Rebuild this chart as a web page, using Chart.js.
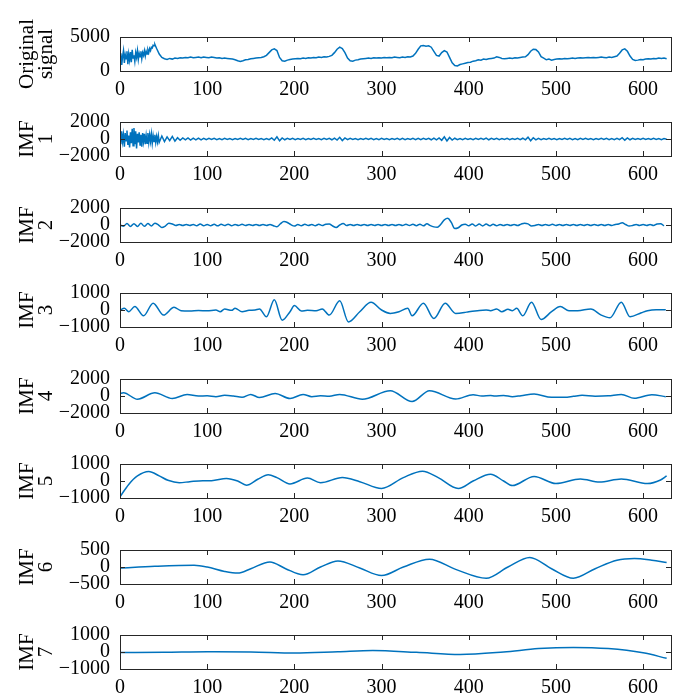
<!DOCTYPE html>
<html>
<head>
<meta charset="utf-8">
<script src="https://cdn.jsdelivr.net/npm/chart.js@4.4.1/dist/chart.umd.min.js"></script>
<style>
  html, body { margin: 0; padding: 0; background: #fff; }
  #wrap { position: relative; width: 686px; height: 695px; overflow: hidden; }
  #wrap canvas { position: absolute; left: 0; }
</style>
</head>
<body>
<div id="wrap"></div>
<script>
// x axis ticks shared by every panel
var xTicks = [0, 100, 200, 300, 400, 500, 600];
var xMax = 632;

// Original signal: every sample up to 41, then one reading every 3 samples from 42
var origHead = [
  1500, 2600, 900, 2200, 3000, 1200, 2400, 1800, 2900, 1000,
  2500, 1600, 2800, 1300, 3100, 1900, 2300, 1400, 2700, 2000,
  3000, 1700, 2600, 2100, 2900, 1800, 2700, 2300, 3000, 2200,
  2900, 2500, 3100, 2700, 3300, 3000, 3500, 3400, 3800, 3700,
  3900, 3600
];
var origTailStart = 42, origTailStep = 3;
var origTail = [
  3300, 2500, 2000, 1800, 1700, 1850,
  1750, 1900, 1850, 1950, 1900, 2000, 1950, 2050, 1950, 2000,
  2050, 1950, 2050, 2000, 1950, 2050, 2000, 1900, 1950, 1850,
  1900, 1850, 1800, 1750, 1650, 1500, 1400, 1500, 1650, 1700,
  1800, 1850, 1900, 1950, 2000, 2100, 2300, 2700, 3100, 3250,
  3000, 2000, 1500, 1450, 1600, 1700, 1750, 1800, 1850, 1800,
  1900, 1850, 1950, 1900, 2000, 1950, 2050, 2000, 2100, 2050,
  2150, 2300, 2700, 3200, 3500, 3300, 2700, 1900, 1500, 1450,
  1600, 1650, 1750, 1800, 1850, 1900, 1850, 1950, 1900, 1950,
  1900, 2000, 1950, 2000, 1950, 2050, 2000, 1950, 2050, 2000,
  2100, 2050, 2200, 2600, 3200, 3700, 3750, 3650, 3700, 3500,
  2900, 2300, 2200, 2700, 3000, 2800, 2000, 1200, 800, 750,
  950, 1050, 1150, 1250, 1300, 1450, 1500, 1650, 1600, 1750,
  1700, 1800, 1850, 1900, 2100, 2000, 1850, 1800, 1850, 1900,
  1850, 1950, 1900, 2000, 2050, 2100, 2400, 2900, 3200, 3150,
  2800, 2100, 1900, 1650, 1750, 1600, 1700, 1750, 1800, 1750,
  1850, 1800, 1850, 1900, 1850, 1900, 1950, 1900, 1950, 2000,
  1950, 2000, 1950, 2000, 2050, 2000, 1950, 2050, 2000, 2100,
  2200, 2600, 3100, 3250, 2900, 2200, 1700, 1550, 1600, 1700,
  1650, 1750, 1800, 1750, 1850, 1800, 1900, 1850, 1900, 1800
];

// IMF 1: every sample up to 44, then one reading every 3 samples from 45
var imf1Head = [
  200, -600, 900, -300, 500, -900, 700, -200, 1000, -700,
  400, -1000, 800, -500, 1200, -800, 1300, -600, 900, -1100,
  600, -400, 800, -700, 500, -900, 700, -300, 600, -600,
  400, -500, 700, -400, 500, -300, 600, -500, 400, -300,
  500, -400, 300, -350, 400
];
var imf1TailStart = 45, imf1TailStep = 3;
var imf1Tail = [
  -400, 350, -300, 250, -200, 300, -250,
  150, -150, 120, -100, 130, -120, 100, -90, 110, -100, 80, -90,
  70, -60, 80, -70, 60, -80, 70, -60, 50, -70,
  60, -50, 70, -60, 80, -70, 60, -50, 70, -60,
  50, -70, 60, -80, 120, -150, 250, -220, 130, -90,
  70, -60, 80, -70, 60, -50, 70, -80, 60, -60,
  70, -50, 60, -70, 80, -60, 70, -90, 110, -120,
  200, -180, 120, -80, 70, -60, 50, -70, 60, -60,
  70, -60, 80, -70, 60, -70, 80, -60, 50, -70,
  60, -50, 70, -80, 90, -70, 60, -60, 80, -70,
  90, -80, 70, -60, 80, -90, 100, -110, 130, -150,
  250, -230, 180, -120, 90, -70, 60, -80, 70, -60,
  60, -70, 80, -60, 70, -60, 100, -90, 70, -60,
  80, -70, 60, -50, 70, -80, 60, -60, 70, -70,
  90, -100, 220, -200, 150, -110, 80, -70, 60, -60,
  70, -60, 50, -70, 60, -50, 70, -60, 80, -70,
  60, -70, 80, -60, 70, -60, 50, -70, 60, -60,
  70, -60, 80, -70, 60, -70, 90, -80, 150, -140,
  120, -90, 70, -60, 50, -60, 70, -60, 60, -50,
  70, -60, 60, -70, 50, -40
];

// IMF 2, one reading every 4 samples
var imf2Step = 4;
var imf2Values = [
  0, -150, 180, -170, 160, -180, 200, -160, 170, -120,
  220, 20, -300, -120, 200, 120, -60, 60, -60, 50,
  -50, 60, -80, 120, -80, 70, -80, 80, -100, 80,
  -70, 100, -80, 60, -70, 80, -60, 50, -50, 60,
  -60, 50, -50, 60, -80, -220, 150, 400, 300, 40,
  -130, 60, -80, 80, -70, 60, -80, 80, -70, 100,
  120, -120, -290, 0, 190, -60, 60, -60, 50, -50,
  60, -60, 50, -50, 60, -60, 70, -60, 60, -70,
  60, -60, 80, -70, 80, -80, 100, -100, 140, -80,
  -220, -260, 100, 600, 780, 300, -420, -320, 0, 100,
  -100, 120, -120, 110, -110, 120, -100, 80, -80, 70,
  -70, 60, -60, 70, -60, 100, 220, 130, -110, -60,
  60, -60, 50, -50, 80, -70, 60, -60, 50, -50,
  60, -60, 50, -50, 60, -60, 50, -50, 60, -60,
  50, -60, 70, 120, 260, 60, -130, -60, 60, -50,
  50, -50, 60, -60, 130, 160, -100
];

// IMF 3..7, read at the turning points of each curve
var imf3X = [0, 5, 10, 17, 27, 38, 50, 62, 70, 80, 90, 100, 110, 115, 120, 128, 132, 140, 148, 155,
  160, 168, 177, 186, 195, 200, 208, 215, 225, 232, 240, 252, 262, 275, 288, 300, 310, 320, 330, 335,
  348, 360, 373, 385, 395, 400, 410, 420, 425, 432, 438, 445, 450, 455, 462, 472, 483, 495, 505, 515,
  525, 540, 552, 562, 575, 585, 598, 605, 615, 626];
var imf3Y = [0, 100, -100, 200, -340, 400, -300, 160, -40, -60, -30, -50, 0, -100, 60, -20, 100, -100, -20, 0,
  60, -400, 600, -600, -100, 260, -60, -20, -40, 60, -300, 540, -700, -100, 460, 0, -200, -100, 100, -340,
  400, -500, 400, -200, -150, -100, -40, 0, -40, 60, -100, 40, -40, 100, -340, 460, -560, -100, 200, -40,
  -40, 60, -300, -460, 460, -400, -160, -40, 20, 20];

var imf4X = [0, 4, 20, 40, 60, 77, 90, 100, 110, 120, 130, 140, 150, 160, 178, 195, 210, 220, 230, 240,
  252, 278, 310, 335, 355, 385, 405, 415, 425, 430, 440, 450, 460, 475, 495, 510, 520, 530, 545, 560,
  575, 590, 610, 626];
var imf4Y = [300, 380, -380, 380, -300, 190, 0, 20, -80, 80, 0, -150, 190, -190, 300, -300, 190, -80, 20, -20,
  190, -380, 620, -650, 620, -350, 150, 0, 60, 0, 60, -80, 40, 230, -150, -150, -40, 80, -20, 20,
  190, -270, 150, -80];

var imf5X = [0, 10, 20, 33, 45, 55, 68, 80, 95, 105, 122, 135, 145, 158, 170, 180, 195, 215, 230, 255,
  275, 300, 325, 347, 365, 388, 405, 425, 440, 450, 475, 500, 528, 550, 575, 605, 620, 627];
var imf5Y = [-930, -200, 300, 560, 300, 40, -100, -40, 20, 20, 150, 0, -250, 100, 370, 200, -170, 170, -100, 200,
  -40, -440, 200, 580, 200, -440, 0, 400, 0, -270, 270, -150, 120, -60, 120, -150, 60, 300];

var imf6X = [0, 40, 85, 100, 120, 135, 150, 172, 190, 210, 230, 250, 275, 300, 325, 355, 385, 420, 445, 470,
  495, 520, 545, 570, 590, 610, 627];
var imf6Y = [-30, 20, 50, 0, -130, -180, -50, 150, -50, -230, 0, 180, -30, -250, 0, 230, -70, -330, 0, 280,
  -50, -330, -50, 200, 250, 200, 130];

var imf7X = [0, 50, 100, 150, 200, 250, 290, 340, 390, 440, 480, 520, 560, 600, 627];
var imf7Y = [-30, -20, 10, 0, -60, 20, 90, -20, -150, 0, 200, 270, 200, -50, -370];

// y tick labels of each panel, top to bottom
var yTicks = [
  [0, 5000],
  [-2000, 0, 2000],
  [-2000, 0, 2000],
  [-1000, 0, 1000],
  [-2000, 0, 2000],
  [-1000, 0, 1000],
  [-500, 0, 500],
  [-1000, 0, 1000]
];

var titles = [
  ['Original', 'signal'],
  ['IMF', '1'], ['IMF', '2'], ['IMF', '3'], ['IMF', '4'],
  ['IMF', '5'], ['IMF', '6'], ['IMF', '7']
];

function stepped(values, start, step) {
  return values.map(function(v, i) { return {x: start + i * step, y: v}; });
}
function paired(xs, ys) {
  return xs.map(function(x, i) { return {x: x, y: ys[i]}; });
}

var series = [
  {points: stepped(origHead, 0, 1).concat(stepped(origTail, origTailStart, origTailStep)), smooth: false},
  {points: stepped(imf1Head, 0, 1).concat(stepped(imf1Tail, imf1TailStart, imf1TailStep)), smooth: false},
  {points: stepped(imf2Values, 0, imf2Step), smooth: true},
  {points: paired(imf3X, imf3Y), smooth: true},
  {points: paired(imf4X, imf4Y), smooth: true},
  {points: paired(imf5X, imf5Y), smooth: true},
  {points: paired(imf6X, imf6Y), smooth: true},
  {points: paired(imf7X, imf7Y), smooth: true}
];

// top edge of each axes box, in page pixels (the last row of x labels runs off the page)
var boxTops = [37, 122, 208, 293, 379, 464, 550, 635];
// the y labels ask for about 22px above the box, so leave a little more
var padTop = 24, boxHeight = 34, xAxisHeight = 36;

var serif = 'Liberation Serif, Times New Roman, serif';

function fmt(v) {
  return v < 0 ? '\u2212' + Math.abs(v) : String(v);
}

// matlab style frame with inward tick marks on all four sides
var boxPlugin = {
  id: 'matlabBox',
  afterDraw: function(chart) {
    var ctx = chart.ctx, a = chart.chartArea;
    var x = chart.scales.x, y = chart.scales.y;
    ctx.save();
    ctx.strokeStyle = '#262626';
    ctx.lineWidth = 1;
    ctx.beginPath();
    x.ticks.forEach(function(t) {
      var px = Math.round(x.getPixelForValue(t.value)) + 0.5;
      ctx.moveTo(px, a.bottom); ctx.lineTo(px, a.bottom - 5);
      ctx.moveTo(px, a.top); ctx.lineTo(px, a.top + 5);
    });
    y.ticks.forEach(function(t) {
      var py = Math.round(y.getPixelForValue(t.value)) + 0.5;
      ctx.moveTo(a.left, py); ctx.lineTo(a.left + 5, py);
      ctx.moveTo(a.right, py); ctx.lineTo(a.right - 5, py);
    });
    ctx.stroke();
    ctx.strokeRect(Math.round(a.left) + 0.5, Math.round(a.top) + 0.5,
      Math.round(a.right - a.left), Math.round(a.bottom - a.top));
    ctx.restore();
  }
};

var wrap = document.getElementById('wrap');

series.forEach(function(s, i) {
  var canvas = document.createElement('canvas');
  canvas.width = 686;
  canvas.height = padTop + boxHeight + xAxisHeight;
  canvas.style.top = (boxTops[i] - padTop) + 'px';
  wrap.appendChild(canvas);

  var ticks = yTicks[i];
  new Chart(canvas.getContext('2d'), {
    type: 'line',
    data: {
      datasets: [{
        data: s.points,
        borderColor: '#0072BD',
        borderWidth: 1.5,
        pointRadius: 0,
        fill: false,
        tension: 0,
        cubicInterpolationMode: s.smooth ? 'monotone' : 'default'
      }]
    },
    options: {
      responsive: false,
      animation: false,
      devicePixelRatio: 1,
      layout: {padding: {top: padTop, right: 15, left: 0, bottom: 0}},
      plugins: {legend: {display: false}, tooltip: {enabled: false}},
      scales: {
        x: {
          type: 'linear',
          min: 0,
          max: xMax,
          grid: {display: false, drawTicks: false},
          border: {display: false},
          afterBuildTicks: function(scale) {
            scale.ticks = xTicks.map(function(v) { return {value: v}; });
          },
          afterFit: function(scale) { scale.height = xAxisHeight; },
          ticks: {
            padding: 7,
            color: '#000',
            autoSkip: false,
            maxRotation: 0,
            font: {family: serif, size: 20},
            callback: function(v) { return fmt(v); }
          }
        },
        y: {
          type: 'linear',
          min: ticks[0],
          max: ticks[ticks.length - 1],
          grid: {display: false, drawTicks: false},
          border: {display: false},
          afterBuildTicks: function(scale) {
            scale.ticks = ticks.map(function(v) { return {value: v}; });
          },
          afterFit: function(scale) { scale.width = 120; },
          ticks: {
            padding: 10,
            color: '#000',
            autoSkip: false,
            font: {family: serif, size: 20},
            callback: function(v) { return fmt(v); }
          },
          title: {
            display: true,
            text: titles[i],
            color: '#000',
            font: {family: serif, size: 21, lineHeight: 0.9},
            padding: {top: 18, bottom: 0}
          }
        }
      }
    },
    plugins: [boxPlugin]
  });
});
</script>
</body>
</html>
